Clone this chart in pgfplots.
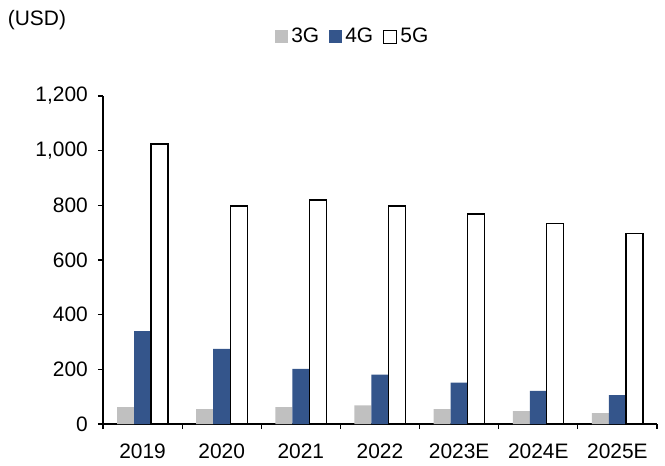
\documentclass[border=0pt]{standalone}
\usepackage{pgfplots}
\pgfplotsset{compat=1.18}
\usepackage{fontspec}
\setmainfont{Liberation Sans}
\definecolor{g3}{RGB}{192,192,192}
\definecolor{g4}{RGB}{52,85,139}

\begin{document}
\begin{tikzpicture}
\fontsize{21}{25}\selectfont
\begin{axis}[
    scale only axis, width=554bp, height=328bp,
    ymin=0, ymax=1200, ytick={0,200,...,1200},
    xmin=-0.5, xmax=6.5,
    xtick={0,...,6},
    xticklabels={2019,2020,2021,2022,2023E,2024E,2025E},
    minor xtick={-0.5,0.5,...,6.5},
    major x tick style={draw=none},
    axis lines=left, axis line style={-, line width=1.1pt},
    tick align=outside, tick style={black, line width=1.1pt},
    major tick length=5bp, minor tick length=5bp,
    /pgf/number format/assume math mode=true,
    /pgf/number format/1000 sep={,},
    ticklabel style={font=\fontsize{21}{25}\selectfont},
    yticklabel style={xshift=-3bp},
    xticklabel style={yshift=-8bp},
    ybar=0pt, bar width=17bp,
    legend columns=3,
    legend style={draw=none, fill=none, at={(0.451,1.18)}, anchor=center,
        font=\fontsize{21}{25}\selectfont, inner sep=0pt,
        nodes={inner xsep=2bp},
        /tikz/every odd column/.append style={column sep=1bp},
        /tikz/every even column/.append style={column sep=8bp}},
    legend image code/.code={\path[#1] (0bp,-6.5bp) rectangle (13bp,6.5bp);},
    clip=false,
]
\addplot[fill=g3, draw=none] coordinates {(0,62) (1,54) (2,62) (3,68) (4,54) (5,47) (6,40)};
\addplot[fill=g4, draw=none] coordinates {(0,340) (1,275) (2,202) (3,181) (4,151) (5,121) (6,106)};
\addplot[fill=white, draw=black, line width=1.3pt] coordinates {(0,1024) (1,798) (2,820) (3,798) (4,768) (5,733) (6,697)};
\legend{3G,4G,5G}
\node[anchor=west, inner sep=0pt] at (axis description cs:-0.172,1.232) {(USD)};
\end{axis}
\pgfresetboundingbox
\path (current axis.south west) ++(-103bp,-42bp) rectangle ++(665bp,466bp);
\end{tikzpicture}
\end{document}
